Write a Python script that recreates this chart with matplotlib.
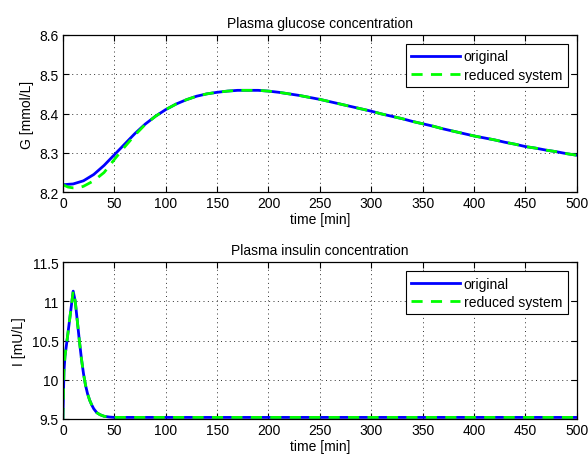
import matplotlib
matplotlib.use('Agg')
import matplotlib.pyplot as plt

plt.rcParams['font.family'] = ['Liberation Sans', 'DejaVu Sans']
plt.rcParams['font.size'] = 10

# Plasma glucose, original model (every 10 min)
t_glu = list(range(0, 501, 10))
glu_orig = [8.219, 8.221, 8.229, 8.245, 8.268, 8.295, 8.322, 8.349, 8.373, 8.393,
            8.410, 8.424, 8.435, 8.444, 8.450, 8.454, 8.457, 8.459, 8.459, 8.459,
            8.457, 8.454, 8.450, 8.446, 8.441, 8.436, 8.430, 8.424, 8.418, 8.412,
            8.406, 8.399, 8.393, 8.387, 8.380, 8.374, 8.368, 8.361, 8.355, 8.349,
            8.343, 8.338, 8.333, 8.327, 8.322, 8.316, 8.312, 8.307, 8.303, 8.298,
            8.294]

# Plasma glucose, reduced system
t_glu_red = [0, 5, 10, 15, 20, 30, 40, 50, 60, 70, 80] + list(range(90, 501, 10))
glu_red = [8.219, 8.213, 8.211, 8.211, 8.215, 8.229, 8.250, 8.283, 8.315, 8.345, 8.372] + glu_orig[9:]

# Plasma insulin
t_ins = [0, 1, 2, 4, 6, 8, 10, 12, 14, 16, 18, 20, 22, 24, 26, 28, 30, 33, 36, 40, 45, 50,
         60, 100, 200, 300, 400, 500]
ins_orig = [9.50, 10.10, 10.30, 10.50, 10.71, 10.92, 11.13, 11.00, 10.75, 10.50, 10.27,
            10.08, 9.93, 9.82, 9.74, 9.68, 9.63, 9.58, 9.555, 9.535, 9.525, 9.52,
            9.52, 9.52, 9.52, 9.52, 9.52, 9.52]
ins_red = list(ins_orig)

xticks = list(range(0, 501, 50))

fig = plt.figure(figsize=(5.88, 4.6), dpi=100)
ax1 = fig.add_axes([0.107, 0.580, 0.874, 0.342])
ax2 = fig.add_axes([0.107, 0.087, 0.874, 0.341])


def style(ax):
    ax.set_xlim(0, 500)
    ax.set_xticks(xticks)
    ax.grid(True, linestyle=(0, (1, 3.5)), color='#303030', linewidth=0.7)
    ax.tick_params(direction='in', top=True, right=True, length=4, pad=3)
    for s in ax.spines.values():
        s.set_linewidth(0.9)
    leg = ax.legend(loc='upper right', fancybox=False, framealpha=1, edgecolor='black',
                    handlelength=3.5, handletextpad=0.3, borderaxespad=0.65,
                    borderpad=0.4, labelspacing=0.3)
    leg.get_frame().set_linewidth(0.8)


ax1.plot(t_glu, glu_orig, color='#0000ff', linewidth=2, label='original')
ax1.plot(t_glu_red, glu_red, color='#00ff00', linewidth=2, linestyle='--', dashes=(4, 3),
         label='reduced system')
ax1.set_ylim(8.2, 8.6)
ax1.set_yticks([8.2, 8.3, 8.4, 8.5, 8.6])
ax1.set_yticklabels(['8.2', '8.3', '8.4', '8.5', '8.6'])
ax1.set_title('Plasma glucose concentration', fontsize=10, pad=6)
ax1.set_xlabel('time [min]', labelpad=1)
ax1.set_ylabel('G [mmol/L]')
style(ax1)

ax2.plot(t_ins, ins_orig, color='#0000ff', linewidth=2, label='original')
ax2.plot(t_ins, ins_red, color='#00ff00', linewidth=2, linestyle='--', dashes=(4, 3),
         label='reduced system')
ax2.set_ylim(9.5, 11.5)
ax2.set_yticks([9.5, 10, 10.5, 11, 11.5])
ax2.set_yticklabels(['9.5', '10', '10.5', '11', '11.5'])
ax2.set_title('Plasma insulin concentration', fontsize=10, pad=6)
ax2.set_xlabel('time [min]', labelpad=1)
ax2.set_ylabel('I [mU/L]')
style(ax2)

fig.savefig('out.png', dpi=100)
